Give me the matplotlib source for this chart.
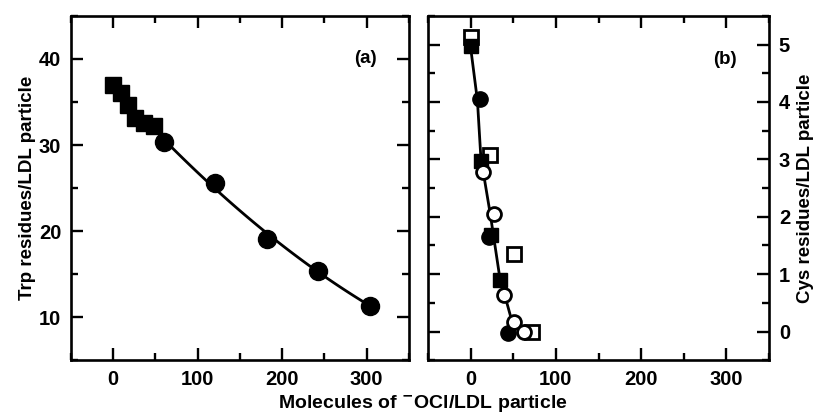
import numpy as np
import matplotlib
matplotlib.use('Agg')
import matplotlib.pyplot as plt
from matplotlib.ticker import MultipleLocator

plt.rcParams['font.family'] = ['Liberation Sans', 'DejaVu Sans']
plt.rcParams['font.weight'] = 'bold'
plt.rcParams['mathtext.default'] = 'bf'

# панель (a): Trp
a_sq_x = [0, 9, 17, 26, 37, 48]
a_sq_y = [37.0, 36.0, 34.7, 33.1, 32.5, 32.2]
a_ci_x = [60, 121, 182, 243, 304]
a_ci_y = [30.4, 25.6, 19.1, 15.4, 11.35]

# панель (b): Cys
b_fsq_x = [0, 12, 24, 35]
b_fsq_y = [4.97, 2.97, 1.68, 0.89]
b_fci_x = [11, 21, 44]
b_fci_y = [4.05, 1.65, -0.02]
b_oci_x = [14, 27, 39, 51, 63]
b_oci_y = [2.78, 2.05, 0.63, 0.17, 0.0]
b_osq_x = [1, 23, 51, 72]
b_osq_y = [5.14, 3.08, 1.35, 0.0]
# кривая
b_fit_x = [0, 8, 12, 23, 34, 49]
b_fit_y = [4.95, 4.02, 3.03, 2.05, 0.96, 0.15]

fig = plt.figure(figsize=(8.16, 4.17), dpi=100)
ax1 = fig.add_axes([0.087, 0.136, 0.414, 0.826])
ax2 = fig.add_axes([0.5245, 0.136, 0.418, 0.826])

for ax in (ax1, ax2):
    for s in ax.spines.values():
        s.set_linewidth(1.9)
    ax.tick_params(which='both', direction='in', top=True, right=True, left=True, bottom=True,
                   width=1.7, labelsize=14.5)
    ax.tick_params(which='major', length=8.5, pad=7)
    ax.tick_params(which='minor', length=5)
    ax.set_xlim(-50, 350)
    ax.xaxis.set_major_locator(MultipleLocator(100))
    ax.xaxis.set_minor_locator(MultipleLocator(50))

# (a)
fit = np.polyfit(a_ci_x, a_ci_y, 2)
xx = np.linspace(a_ci_x[0], a_ci_x[-1], 100)
ax1.plot(xx, np.polyval(fit, xx), color='black', lw=2.0, zorder=2)
ax1.plot(a_sq_x, a_sq_y, 's', color='black', ms=11.5, zorder=3)
ax1.plot(a_ci_x, a_ci_y, 'o', color='black', ms=13, zorder=3)
ax1.set_ylim(5, 45)
ax1.yaxis.set_major_locator(MultipleLocator(10))
ax1.yaxis.set_minor_locator(MultipleLocator(5))
ax1.set_ylabel('Trp residues/LDL particle', fontsize=13.5, fontweight='bold', labelpad=2)
ax1.text(0.905, 0.875, '(a)', transform=ax1.transAxes, fontsize=13.5, ha='right', va='center')

# (b)
ax2.plot(b_fit_x, b_fit_y, color='black', lw=2.0, zorder=2)
ax2.plot(b_osq_x, b_osq_y, 's', mfc='white', mec='black', mew=2.0, ms=10, zorder=3)
ax2.plot(b_fsq_x, b_fsq_y, 's', color='black', ms=10.5, zorder=4)
ax2.plot(b_fci_x, b_fci_y, 'o', color='black', ms=11, zorder=4)
ax2.plot(b_oci_x, b_oci_y, 'o', mfc='white', mec='black', mew=2.0, ms=10, zorder=5)
ax2.set_ylim(-0.5, 5.5)
ax2.yaxis.set_major_locator(MultipleLocator(1))
ax2.yaxis.set_minor_locator(MultipleLocator(0.5))
ax2.tick_params(axis='y', labelleft=False, labelright=True)
ax2.yaxis.set_label_position('right')
ax2.set_ylabel('Cys residues/LDL particle', fontsize=13.5, fontweight='bold', labelpad=5)
ax2.text(0.906, 0.873, '(b)', transform=ax2.transAxes, fontsize=13.5, ha='right', va='center')

fig.text(0.518, 0.03, r'Molecules of $^{-}$OCl/LDL particle', ha='center', va='center',
         fontsize=14, fontweight='bold')

fig.savefig('out.png', dpi=100)
